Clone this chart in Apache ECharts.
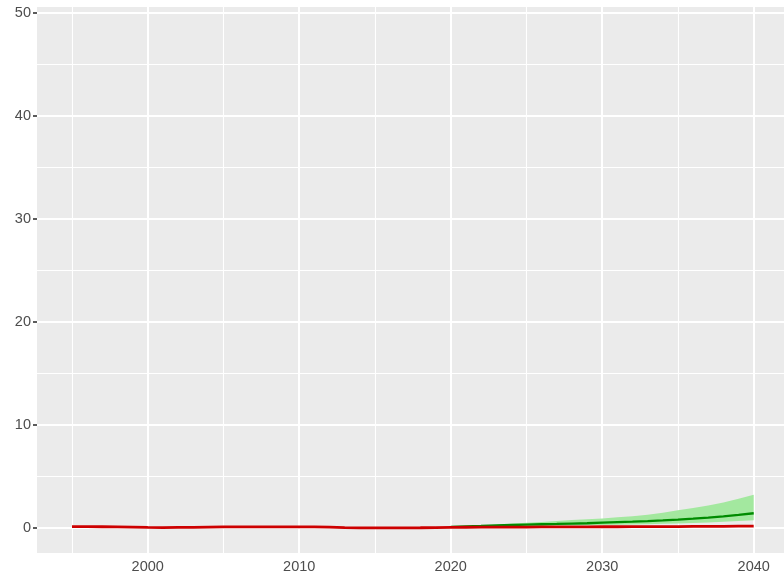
<!DOCTYPE html>
<html>
<head>
<meta charset="utf-8">
<script src="https://cdn.jsdelivr.net/npm/echarts@6/dist/echarts.min.js"></script>
<style>
  html, body { margin: 0; padding: 0; background: #fff; }
  #chart { width: 784px; height: 581px; }
</style>
</head>
<body>
<div id="chart"></div>
<script>
// observed series, 1995-2040
var histYears = [1995,1996,1997,1998,1999,2000,2001,2002,2003,2004,2005,2006,2007,2008,2009,2010,2011,2012,2013,2014,2015,2016,2017,2018,2019,2020,2021,2022,2023,2024,2025,2026,2027,2028,2029,2030,2031,2032,2033,2034,2035,2036,2037,2038,2039,2040];
var redValues = [0.15,0.15,0.14,0.12,0.10,0.07,0.06,0.07,0.08,0.10,0.12,0.13,0.13,0.13,0.13,0.13,0.12,0.10,0.06,0.03,0.02,0.02,0.03,0.04,0.06,0.08,0.09,0.10,0.10,0.11,0.11,0.12,0.12,0.13,0.13,0.14,0.14,0.15,0.15,0.16,0.16,0.17,0.17,0.18,0.19,0.20];

// projection with band
var projYears = [2020,2021,2022,2023,2024,2025,2026,2027,2028,2029,2030,2031,2032,2033,2034,2035,2036,2037,2038,2039,2040];
var greenValues = [0.13,0.18,0.22,0.27,0.31,0.35,0.38,0.41,0.45,0.48,0.53,0.58,0.63,0.69,0.76,0.84,0.93,1.03,1.15,1.29,1.45];
var bandUpper = [0.15,0.20,0.26,0.33,0.42,0.52,0.61,0.70,0.79,0.87,0.95,1.05,1.17,1.30,1.50,1.75,1.95,2.20,2.50,2.85,3.25];
var bandLower = [0.10,0.12,0.14,0.16,0.18,0.20,0.22,0.24,0.26,0.28,0.30,0.33,0.36,0.39,0.42,0.45,0.50,0.56,0.62,0.70,0.78];

var xTicks = [2000,2010,2020,2030,2040];
var xMinor = [1995,2005,2015,2025,2035];
var yTicks = [0,10,20,30,40,50];
var yMinor = [5,15,25,35,45];

function pairs(xs, ys) {
  return xs.map(function(x, i) { return [x, ys[i]]; });
}

var gridLines = [];
xMinor.forEach(function(v) { gridLines.push({ xAxis: v, lineStyle: { width: 1.1 } }); });
yMinor.forEach(function(v) { gridLines.push({ yAxis: v, lineStyle: { width: 1.1 } }); });
xTicks.forEach(function(v) { gridLines.push({ xAxis: v, lineStyle: { width: 2 } }); });
yTicks.forEach(function(v) { gridLines.push({ yAxis: v, lineStyle: { width: 2 } }); });

var labelFont = { color: '#4D4D4D', fontSize: 14.5, fontFamily: 'Liberation Sans' };

// ribbon drawn as one polygon through the axis scales
function renderBand(params, api) {
  if (params.dataIndex !== 0) return;
  var pts = [];
  for (var i = 0; i < projYears.length; i++) pts.push(api.coord([projYears[i], bandUpper[i]]));
  for (var j = projYears.length - 1; j >= 0; j--) pts.push(api.coord([projYears[j], bandLower[j]]));
  return {
    type: 'polygon',
    shape: { points: pts },
    style: { fill: '#A3E89F' }
  };
}

var option = {
  animation: false,
  grid: {
    left: 37, right: 0, top: 7, bottom: 28,
    show: true, backgroundColor: '#EBEBEB', borderWidth: 0
  },
  xAxis: {
    type: 'value',
    min: 1992.69, max: 2042.0,
    axisLine: { show: false },
    splitLine: { show: false },
    axisTick: { show: true, length: 4, customValues: xTicks, lineStyle: { color: '#333333', width: 1.6 } },
    axisLabel: Object.assign({ customValues: xTicks, margin: 6, formatter: function(v) { return String(v); } }, labelFont)
  },
  yAxis: {
    type: 'value',
    min: -2.41, max: 50.6,
    axisLine: { show: false },
    splitLine: { show: false },
    axisTick: { show: true, length: 4, customValues: yTicks, lineStyle: { color: '#333333', width: 1.6 } },
    axisLabel: Object.assign({ customValues: yTicks, margin: 6 }, labelFont)
  },
  series: [
    {
      type: 'line', data: [], z: 1, silent: true,
      markLine: {
        z: 1, silent: true, symbol: 'none', label: { show: false },
        animation: false,
        lineStyle: { color: '#FFFFFF', type: 'solid', opacity: 1 },
        data: gridLines
      }
    },
    {
      name: 'band', type: 'custom', z: 2, silent: true,
      renderItem: renderBand,
      data: pairs(projYears, bandUpper)
    },
    {
      name: 'projection', type: 'line', z: 3,
      data: pairs(projYears, greenValues),
      symbol: 'none', lineStyle: { color: '#008B00', width: 2.3 }
    },
    {
      name: 'observed', type: 'line', z: 4,
      data: pairs(histYears, redValues),
      symbol: 'none', lineStyle: { color: '#CD0000', width: 2.8 }
    }
  ]
};

var myChart = echarts.init(document.getElementById('chart'));
myChart.setOption(option);
</script>
</body>
</html>
